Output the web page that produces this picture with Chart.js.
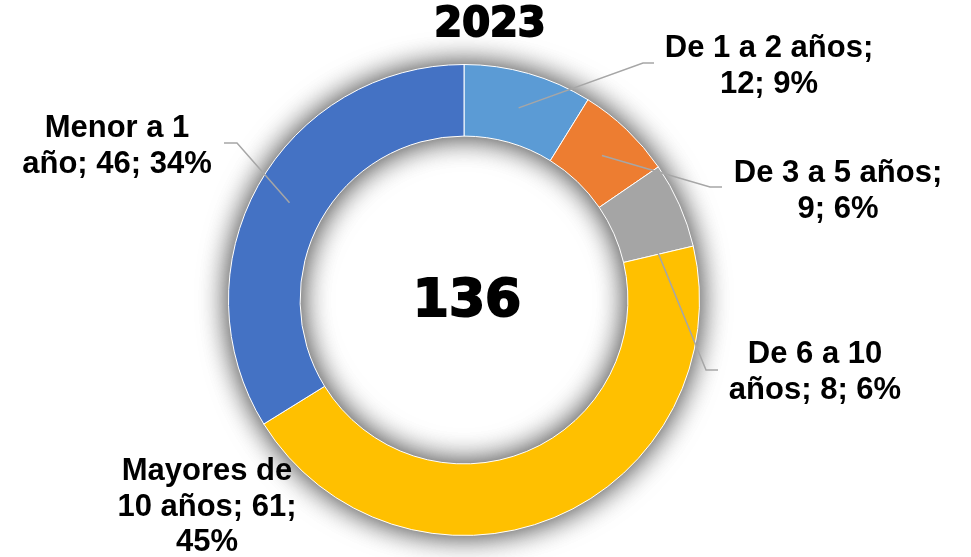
<!DOCTYPE html>
<html>
<head>
<meta charset="utf-8">
<script src="https://cdn.jsdelivr.net/npm/chart.js@4.4.1/dist/chart.umd.min.js"></script>
<style>
  html, body { margin: 0; padding: 0; background: #ffffff; }
  #wrap { width: 971px; height: 557px; }
</style>
</head>
<body>
<div id="wrap"><canvas id="chart" width="971" height="557"></canvas></div>
<script>
// Data
const categories = ['De 1 a 2 años', 'De 3 a 5 años', 'De 6 a 10 años', 'Mayores de 10 años', 'Menor a 1 año'];
const values = [12, 9, 8, 61, 46];
const percentLabels = ['9%', '6%', '6%', '45%', '34%'];
const sliceColors = ['#5B9BD5', '#ED7D31', '#A5A5A5', '#FFC000', '#4472C4'];
const chartTitle = '2023';
const total = values.reduce((a, b) => a + b, 0);

// Label placement (text block centre, first baseline, wrap width, leader elbow/end)
const labelLayout = [
    { cx: 769, y: 57,  wrap: 235, frac: 0.5,  elbow: [643, 63],  end: [654, 63] },
    { cx: 838, y: 182, wrap: 235, frac: 0.5,  elbow: [710, 187], end: [722, 187] },
    { cx: 815, y: 363, wrap: 210, frac: 0.98, elbow: [706, 370], end: [718, 370] },
    { cx: 207, y: 480, wrap: 195, frac: 0.5,  elbow: null,       end: null },
    { cx: 117, y: 137, wrap: 210, frac: 0.5,  elbow: [237, 143], end: [224, 143] }
];

const LABEL_FONT = 'bold 31px "Liberation Sans", Arial, sans-serif';
const LINE_H = 35.5;

function wrapText(ctx, text, maxW) {
    const words = text.split(' ');
    const lines = [];
    let cur = '';
    words.forEach(w => {
        const test = cur ? cur + ' ' + w : w;
        if (cur && ctx.measureText(test).width > maxW) {
            lines.push(cur);
            cur = w;
        } else {
            cur = test;
        }
    });
    if (cur) lines.push(cur);
    return lines;
}

// soft grey glow around the ring, drawn before the slices
const ringShadow = {
    id: 'ringShadow',
    beforeDatasetsDraw(chart) {
        const arc = chart.getDatasetMeta(0).data[0];
        if (!arc) return;
        const ctx = chart.ctx;
        ctx.save();
        ctx.shadowColor = 'rgba(0,0,0,0.5)';
        ctx.shadowBlur = 30;
        ctx.fillStyle = '#ffffff';
        for (let k = 0; k < 2; k++) {
            ctx.beginPath();
            ctx.arc(arc.x, arc.y, arc.outerRadius - 1, 0, Math.PI * 2);
            ctx.arc(arc.x, arc.y, arc.innerRadius + 1, 0, Math.PI * 2, true);
            ctx.fill();
        }
        ctx.restore();
    }
};

// data labels with leader lines, title and centre total
const labelsPlugin = {
    id: 'labelsPlugin',
    afterDraw(chart) {
        const ctx = chart.ctx;
        const meta = chart.getDatasetMeta(0);
        ctx.save();

        // leader lines
        ctx.strokeStyle = '#A6A6A6';
        ctx.lineWidth = 1.5;
        meta.data.forEach((arc, i) => {
            const lay = labelLayout[i];
            if (!lay.elbow) return;
            const ang = arc.startAngle + (arc.endAngle - arc.startAngle) * lay.frac;
            const r = (arc.innerRadius + arc.outerRadius) / 2;
            ctx.beginPath();
            ctx.moveTo(arc.x + Math.cos(ang) * r, arc.y + Math.sin(ang) * r);
            ctx.lineTo(lay.elbow[0], lay.elbow[1]);
            ctx.lineTo(lay.end[0], lay.end[1]);
            ctx.stroke();
        });

        // label text
        ctx.fillStyle = '#000000';
        ctx.font = LABEL_FONT;
        ctx.textAlign = 'center';
        ctx.textBaseline = 'alphabetic';
        categories.forEach((cat, i) => {
            const lay = labelLayout[i];
            const text = cat + '; ' + values[i] + '; ' + percentLabels[i];
            wrapText(ctx, text, lay.wrap).forEach((line, k) => {
                ctx.fillText(line, lay.cx, lay.y + k * LINE_H);
            });
        });

        // title
        ctx.font = 'bold 40px "DejaVu Sans", sans-serif';
        ctx.lineWidth = 2;
        ctx.strokeStyle = '#000000';
        ctx.fillText(chartTitle, 490, 36);
        ctx.strokeText(chartTitle, 490, 36);

        // total in the centre
        const a0 = meta.data[0];
        ctx.font = 'bold 52px "DejaVu Sans", sans-serif';
        ctx.fillText(String(total), a0.x + 3, 316);
        ctx.strokeText(String(total), a0.x + 3, 316);

        ctx.restore();
    }
};

new Chart(document.getElementById('chart'), {
    type: 'doughnut',
    data: {
        labels: categories,
        datasets: [{
            data: values,
            backgroundColor: sliceColors,
            borderColor: '#ffffff',
            borderWidth: 1,
            hoverOffset: 0
        }]
    },
    options: {
        responsive: false,
        animation: false,
        cutout: '69.6%',
        layout: { padding: { left: 228, right: 271, top: 64, bottom: 21 } },
        plugins: {
            legend: { display: false },
            tooltip: { enabled: false },
            title: { display: false }
        }
    },
    plugins: [ringShadow, labelsPlugin]
});
</script>
</body>
</html>
